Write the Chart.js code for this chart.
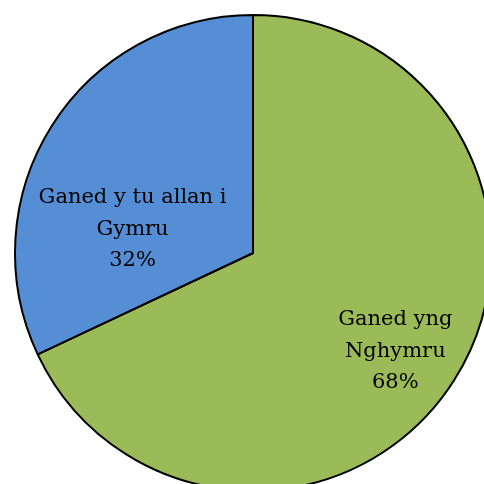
<!DOCTYPE html>
<html>
<head>
<meta charset="utf-8">
<script src="https://cdn.jsdelivr.net/npm/chart.js@4"></script>
<style>
  html, body { margin: 0; padding: 0; background: #fff; overflow: hidden; width: 484px; height: 484px; }
  #wrap { position: absolute; left: 0; top: 0; width: 506px; height: 506px; }
</style>
</head>
<body>
<div id="wrap"><canvas id="pie"></canvas></div>
<script>
// --- DATA ---
const labels = [['Ganed yng', 'Nghymru'], ['Ganed y tu allan i', 'Gymru']];
const values = [68, 32];
const colors = ['#9bbb59', '#558ed5'];

// label spots, as fraction of the radius from the centre
const labelSpots = [[0.598, 0.414], [-0.506, -0.1]];

const sliceLabels = {
    id: 'sliceLabels',
    afterDatasetsDraw(chart) {
        const ctx = chart.ctx;
        const meta = chart.getDatasetMeta(0);
        const total = values.reduce((a, b) => a + b, 0);
        ctx.save();
        ctx.fillStyle = '#000';
        ctx.font = '21px "DejaVu Serif"';
        ctx.textAlign = 'center';
        ctx.textBaseline = 'middle';
        meta.data.forEach((arc, i) => {
            const r = arc.outerRadius;
            const cx = arc.x + labelSpots[i][0] * r;
            const cy = arc.y + labelSpots[i][1] * r;
            const lines = labels[i].concat([Math.round(values[i] / total * 100) + '%']);
            const lh = 31.5;
            lines.forEach((t, k) => ctx.fillText(t, cx, cy + (k - 1) * lh));
        });
        ctx.restore();
    }
};

new Chart(document.getElementById('pie').getContext('2d'), {
    type: 'pie',
    data: { labels: labels.map(l => l.join(' ')), datasets: [{ data: values, backgroundColor: colors, borderColor: '#000', borderWidth: 2 }] },
    options: {
        responsive: true, maintainAspectRatio: false, animation: false,
        layout: { padding: 14 },
        plugins: { legend: { display: false }, tooltip: { enabled: false } }
    },
    plugins: [sliceLabels]
});
</script>
</body>
</html>
